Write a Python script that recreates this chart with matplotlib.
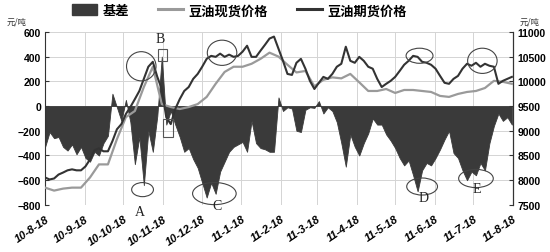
import matplotlib
matplotlib.use("Agg")
import matplotlib.pyplot as plt
import matplotlib.dates as mdates
from matplotlib.patches import Ellipse, Rectangle, Patch
from matplotlib.lines import Line2D
import pandas as pd
import numpy as np

# ---------------- data ----------------
basis_dates = pd.date_range("2010-08-18", periods=105, freq="84h")
basis = [-330, -210, -260, -250, -330, -360, -310, -390, -330, -420,
         -450, -370, -400, -300, -240, 100, -10, -120, 50, -130,
         -470, -250, -640, -200, -370, -80, 400, -150, -40, -150,
         -250, -370, -340, -430, -500, -620, -740, -620, -710, -530,
         -450, -370, -330, -310, -290, -370, -120, -300, -340, -350,
         -370, -370, 70, -40, -10, -20, -200, -210, -30, -10,
         -15, 40, -60, -10, -40, -130, -300, -490, -230, -330,
         -400, -300, -220, -100, -150, -150, -230, -280, -340, -420,
         -480, -440, -560, -690, -520, -460, -480, -420, -350, -270,
         -200, -380, -420, -520, -600, -530, -560, -460, -520, -300,
         -160, -60, -120, -90, -150]

futures_dates = basis_dates
futures = [8055, 8015, 8035, 8115, 8155, 8200, 8220, 8200, 8200, 8280,
           8420, 8605, 8645, 8585, 8585, 8790, 9030, 9135, 9340, 9480,
           9640, 9805, 10050, 10295, 10395, 10090, 9845, 9275, 9135, 9440,
           9640, 9805, 9885, 10050, 10150, 10295, 10455, 10515, 10495, 10560,
           10495, 10540, 10495, 10515, 10600, 10720, 10495, 10495, 10620, 10740,
           10865, 10905, 10660, 10415, 10150, 10130, 10375, 10455, 10255, 10010,
           9845, 9970, 10090, 10050, 10150, 10295, 10355, 10700, 10415, 10375,
           10495, 10415, 10295, 10255, 10050, 9885, 9950, 10010, 10090, 10210,
           10335, 10415, 10515, 10495, 10395, 10375, 10335, 10255, 10110, 9970,
           9950, 10050, 10110, 10255, 10355, 10315, 10375, 10295, 10355, 10315,
           10295, 9950, 10010, 10050, 10090]

spot_dates = pd.date_range("2010-08-18", periods=53, freq="7D")
spot = [7850, 7790, 7830, 7850, 7850, 8055, 8320, 8320, 8830, 9275,
        9400, 9885, 10295, 9540, 9480, 9440, 9480, 9540, 9685, 9950,
        10190, 10295, 10295, 10355, 10455, 10580, 10500, 10335, 10180, 10210,
        9900, 10030, 10080, 10060, 10150, 9980, 9805, 9805, 9845, 9765,
        9825, 9825, 9805, 9785, 9705, 9685, 9745, 9785, 9805, 9865,
        10010, 9990, 9950]

tick_dates = pd.date_range("2010-08-18", periods=13, freq=pd.DateOffset(months=1))
tick_labels = ["10-8-18", "10-9-18", "10-10-18", "10-11-18", "10-12-18",
               "11-1-18", "11-2-18", "11-3-18", "11-4-18", "11-5-18",
               "11-6-18", "11-7-18", "11-8-18"]
left_ticks = [600, 400, 200, 0, -200, -400, -600, -800]
right_ticks = [11000, 10500, 10000, 9500, 9000, 8500, 8000, 7500]

series_names = ["基差", "豆油现货价格", "豆油期货价格"]
unit = "元/吨"

# annotations: (date, left-axis value, width days, height value)
ellipses = [("2010-11-01", 322, 23, 236),
            ("2010-11-02", -676, 17, 114),
            ("2011-01-03", 431, 23, 204),
            ("2010-12-28", -708, 34, 179),
            ("2011-06-06", 407, 21, 122),
            ("2011-07-25", 366, 23, 204),
            ("2011-06-08", -651, 24, 138),
            ("2011-07-20", -586, 27, 147)]
rects = [("2010-11-14", 366, 7, 98),
         ("2010-11-18", -252, 8, 146)]
letters = [("A", "2010-10-31", -850),
           ("B", "2010-11-16", 545),
           ("C", "2010-12-30", -805),
           ("D", "2011-06-09", -740),
           ("E", "2011-07-21", -665)]

# ---------------- plot ----------------
cjk = ["Noto Sans CJK SC", "DejaVu Sans"]
num_font = ["Liberation Sans Narrow", "Liberation Sans", "DejaVu Sans"]

fig = plt.figure(figsize=(5.5, 2.53), dpi=100)
ax = fig.add_axes([0.082, 0.186, 0.851, 0.684])
ax2 = ax.twinx()

ax.fill_between(basis_dates, 0, basis, color="#3a3a3a", lw=0.6, edgecolor="#3a3a3a", zorder=2)
ax2.plot(spot_dates, spot, color="#9a9a9a", lw=1.6, zorder=3)
ax2.plot(futures_dates, futures, color="#333333", lw=1.5, zorder=4)

ax.set_ylim(-800, 600)
ax2.set_ylim(7500, 11000)
ax.set_xlim(tick_dates[0], tick_dates[-1])
ax.set_yticks(left_ticks)
ax2.set_yticks(right_ticks)
ax.set_xticks(tick_dates)
ax.set_xticklabels(tick_labels, rotation=34, ha="right", rotation_mode="anchor",
                   fontsize=8, fontweight="bold", fontstyle="italic", family=num_font)
for lab in ax.get_yticklabels():
    lab.set_fontsize(7.5); lab.set_fontweight("bold"); lab.set_family(num_font)
for lab in ax2.get_yticklabels():
    lab.set_fontsize(7.5); lab.set_fontweight("bold"); lab.set_family(num_font)

ax.grid(True, color="#d4d4d4", lw=0.7, zorder=0)
ax.set_axisbelow(True)
for a in (ax, ax2):
    a.spines["top"].set_visible(False)
    a.spines["bottom"].set_visible(False)
ax.spines["left"].set_color("#333333")
ax2.spines["right"].set_color("#333333")
ax2.spines["left"].set_visible(False)
ax.tick_params(axis="x", length=0, pad=6)
ax.tick_params(axis="y", length=3, width=0.8, direction="in", pad=3, color="#333333")
ax2.tick_params(axis="y", length=3, width=0.8, direction="in", pad=3, color="#333333")

# annotations (on left axis coordinates, drawn on top)
for d, v, w, h in ellipses:
    e = Ellipse((mdates.date2num(pd.Timestamp(d)), v), w, h, fill=False,
                edgecolor="#444444", lw=0.8, transform=ax.transData, zorder=10, clip_on=False)
    ax2.add_artist(e)
for d, v, w, h in rects:
    r = Rectangle((mdates.date2num(pd.Timestamp(d)), v), w, h, fill=False,
                  edgecolor="#555555", lw=0.8, transform=ax.transData, zorder=10, clip_on=False)
    ax2.add_artist(r)
for t, d, v in letters:
    ax2.text(mdates.date2num(pd.Timestamp(d)), v, t, transform=ax.transData,
             ha="center", va="center", fontsize=10, family=["Liberation Serif", "DejaVu Serif"],
             color="#222222", zorder=11, clip_on=False)

# units
fig.text(0.012, 0.905, unit, fontsize=6, family=cjk, fontstyle="italic", color="#333333")
fig.text(0.945, 0.905, unit, fontsize=6, family=cjk, fontstyle="italic", color="#333333")

# legend
handles = [Patch(facecolor="#3a3a3a", edgecolor="#3a3a3a"),
           Line2D([], [], color="#9a9a9a", lw=2.2),
           Line2D([], [], color="#333333", lw=2.2)]
fig.legend(handles, series_names, loc="upper center", bbox_to_anchor=(0.435, 1.03),
           ncol=3, frameon=False, prop={"family": cjk, "weight": "bold", "size": 9.5},
           handlelength=1.9, handleheight=0.9, columnspacing=2.2, handletextpad=0.4)

fig.savefig("out.png", dpi=100)
